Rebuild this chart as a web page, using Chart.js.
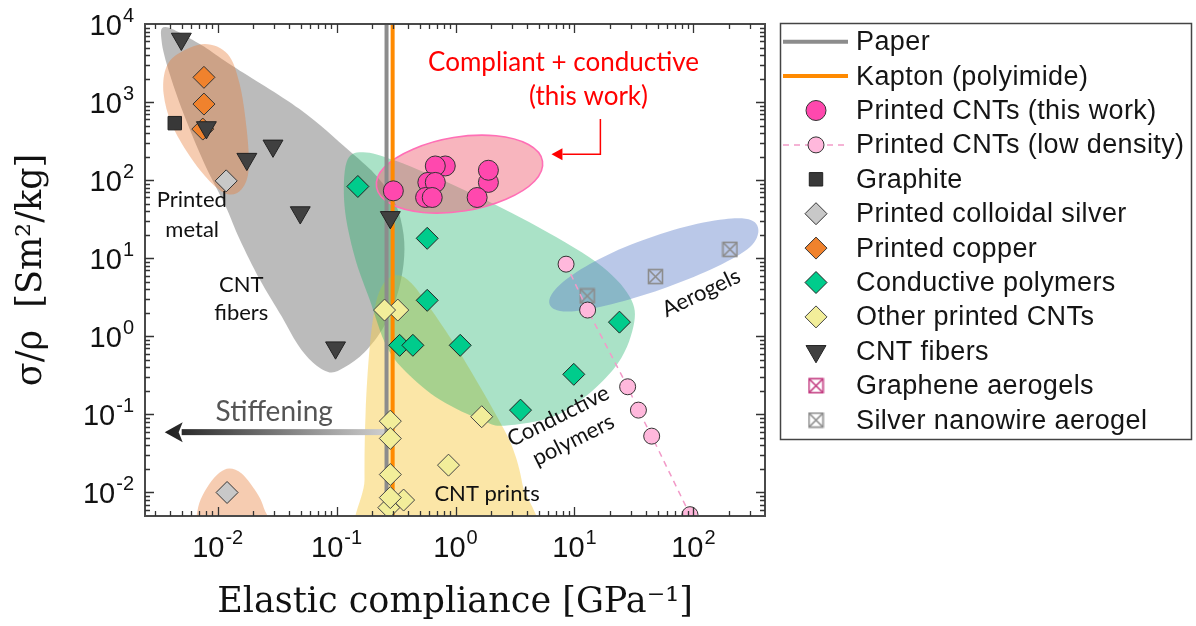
<!DOCTYPE html>
<html><head><meta charset="utf-8">
<script src="https://cdn.jsdelivr.net/npm/chart.js@4/dist/chart.umd.min.js"></script>
<style>html,body{margin:0;padding:0;background:#fff}#wrap{width:1196px;height:626px;position:relative}</style>
</head><body><div id="wrap"><canvas id="c" width="1196" height="626"></canvas></div>
<script>
// ---------- data ----------
const xTicks = [0.01, 0.1, 1, 10, 100];
const xTickExp = ['-2', '-1', '0', '1', '2'];
const yTicks = [0.01, 0.1, 1, 10, 100, 1000, 10000];
const yTickExp = ['-2', '-1', '0', '1', '2', '3', '4'];

const lineY = [0.005, 10000];
const paperX = [0.263, 0.263];
const kaptonX = [0.296, 0.296];

const cntThisX = [0.30, 0.82, 0.676, 0.585, 0.676, 0.56, 0.637, 1.89, 1.89, 1.52];
const cntThisY = [73, 152, 152, 93.6, 93.6, 60, 60, 93.6, 134, 60];

const cntLowX = [8.5, 12.9, 28, 34.5, 44.6, 93.6];
const cntLowY = [8.4, 2.17, 0.226, 0.1135, 0.0527, 0.0052];

const graphiteX = [0.00436];
const graphiteY = [537];

const silverX = [0.0118, 0.012];
const silverY = [98, 0.01];

const copperX = [0.00767, 0.00767, 0.0075];
const copperY = [2075, 943, 451];

const polyX = [0.151, 0.578, 0.578, 0.339, 0.438, 1.095, 23.9, 9.87, 3.52];
const polyY = [83, 18, 2.89, 0.767, 0.767, 0.767, 1.52, 0.326, 0.1135];

const otherX = [0.327, 0.253, 0.283, 0.283, 0.283, 0.275, 0.366, 0.283, 1.66, 0.873];
const otherY = [2.17, 2.17, 0.082, 0.0492, 0.017, 0.0064, 0.0080, 0.0086, 0.0934, 0.0224];

const fiberX = [0.00495, 0.00804, 0.0176, 0.0292, 0.0495, 0.283, 0.098];
const fiberY = [6430, 473, 186, 275, 38.5, 33.4, 0.716];

const grapheneX = [];
const grapheneY = [];

const silverNwX = [12.8, 48, 203];
const silverNwY = [3.29, 5.82, 13.0];

// shaded regions: outlines as [log10(x), log10(y)]
const regionCntFibers = [[-2.437,3.962],[-2.151,3.744],[-1.874,3.462],[-1.311,2.910],[-0.891,2.372],[-0.655,2.038],[-0.504,1.692],[-0.437,1.308],[-0.437,0.923],[-0.496,0.500],[-0.605,0.115],[-0.765,-0.205],[-0.933,-0.397],[-1.059,-0.462],[-1.202,-0.333],[-1.328,-0.103],[-1.462,0.256],[-1.647,0.731],[-1.815,1.244],[-1.933,1.667],[-2.109,2.205],[-2.269,2.782],[-2.403,3.359],[-2.471,3.782]];
const regionMetal = [[-2.336,3.615],[-2.109,3.744],[-1.916,3.615],[-1.815,3.231],[-1.756,2.654],[-1.739,2.141],[-1.798,1.885],[-1.916,1.821],[-2.067,1.987],[-2.235,2.308],[-2.387,2.718],[-2.454,3.103],[-2.437,3.423]];
const regionMetalLow = [[-2.193,-2.603],[-2.176,-2.295],[-2.143,-2.090],[-2.067,-1.885],[-1.983,-1.744],[-1.899,-1.692],[-1.798,-1.756],[-1.689,-1.962],[-1.613,-2.192],[-1.563,-2.603]];
const regionPrints = [[-0.748,-2.667],[-0.765,-1.833],[-0.756,-0.974],[-0.723,-0.167],[-0.672,0.410],[-0.597,0.692],[-0.487,0.782],[-0.370,0.679],[-0.218,0.372],[-0.008,-0.103],[0.185,-0.590],[0.353,-1.038],[0.479,-1.423],[0.563,-1.897],[0.622,-2.667]];
const regionPolymers = [[-0.916,2.231],[-0.782,2.359],[-0.496,2.244],[0.059,1.885],[0.622,1.462],[1.185,0.949],[1.462,0.513],[1.496,0.128],[1.328,-0.423],[0.899,-0.974],[0.429,-1.141],[0.227,-1.077],[-0.134,-0.808],[-0.412,-0.462],[-0.580,-0.128],[-0.723,0.474],[-0.849,1.026],[-0.933,1.667]];
const regionAerogels = [[0.790,0.474],[0.891,0.679],[1.126,0.923],[1.462,1.167],[1.882,1.385],[2.261,1.500],[2.487,1.487],[2.546,1.333],[2.454,1.115],[2.151,0.859],[1.731,0.603],[1.311,0.410],[1.000,0.321],[0.832,0.346]];
const regionThisWork = [[0.731,2.244],[0.664,1.987],[0.424,1.756],[0.084,1.608],[-0.273,1.586],[-0.546,1.697],[-0.664,1.910],[-0.597,2.167],[-0.357,2.397],[-0.017,2.546],[0.340,2.568],[0.613,2.456]];

// ---------- helpers ----------
const pts = (xs, ys) => xs.map((x, i) => ({x: x, y: ys[i]}));

function boxX(color, size) {
  const c = document.createElement('canvas');
  c.width = size + 2; c.height = size + 2;
  const g = c.getContext('2d');
  g.strokeStyle = color; g.lineWidth = 1.6;
  const o = 1.5, s = size - 1;
  g.strokeRect(o, o, s, s);
  g.beginPath(); g.moveTo(o, o); g.lineTo(o + s, o + s); g.moveTo(o + s, o); g.lineTo(o, o + s); g.stroke();
  return c;
}
const grayBoxX = boxX('#8c8c8c', 15);
const magBoxX = boxX('#c23b80', 15);

function marker(ctx, m, x, y) {
  ctx.save();
  ctx.fillStyle = m.fill || 'transparent';
  ctx.strokeStyle = m.stroke || '#222';
  ctx.lineWidth = m.lw || 1;
  ctx.beginPath();
  const r = m.r;
  if (m.shape === 'circle') { ctx.arc(x, y, r, 0, Math.PI * 2); }
  else if (m.shape === 'rect') { const h = r * Math.SQRT1_2; ctx.rect(x - h, y - h, 2 * h, 2 * h); }
  else if (m.shape === 'diamond') { ctx.moveTo(x, y - r); ctx.lineTo(x + r, y); ctx.lineTo(x, y + r); ctx.lineTo(x - r, y); ctx.closePath(); }
  else if (m.shape === 'tri') { ctx.moveTo(x, y + r); ctx.lineTo(x + r * 0.866, y - r / 2); ctx.lineTo(x - r * 0.866, y - r / 2); ctx.closePath(); }
  if (m.shape === 'img') { ctx.drawImage(m.img, x - m.img.width / 2, y - m.img.height / 2); }
  else { ctx.fill(); ctx.stroke(); }
  ctx.restore();
}

function closedSpline(ctx, p) {
  const n = p.length;
  ctx.moveTo(p[0][0], p[0][1]);
  for (let i = 0; i < n; i++) {
    const p0 = p[(i - 1 + n) % n], p1 = p[i], p2 = p[(i + 1) % n], p3 = p[(i + 2) % n];
    ctx.bezierCurveTo(p1[0] + (p2[0] - p0[0]) / 6, p1[1] + (p2[1] - p0[1]) / 6,
                      p2[0] - (p3[0] - p1[0]) / 6, p2[1] - (p3[1] - p1[1]) / 6, p2[0], p2[1]);
  }
  ctx.closePath();
}

// power-of-ten label: "10" + raised exponent
const BASE_FONT = '29px "Liberation Sans"', EXP_FONT = '20px "Liberation Sans"';
function powLabelWidth(ctx, exp) {
  ctx.font = BASE_FONT; const w1 = ctx.measureText('10').width;
  ctx.font = EXP_FONT; const w2 = ctx.measureText(exp).width;
  return [w1, w2];
}
function drawPowLabel(ctx, exp, xLeft, baseline) {
  const [w1] = powLabelWidth(ctx, exp);
  ctx.fillStyle = '#111'; ctx.textAlign = 'left'; ctx.textBaseline = 'alphabetic';
  ctx.font = BASE_FONT; ctx.fillText('10', xLeft, baseline);
  ctx.font = EXP_FONT; ctx.fillText(exp, xLeft + w1 + 1, baseline - 13);
}

const regions = [
  {pts: regionCntFibers, fill: 'rgba(120,120,120,0.5)'},
  {pts: regionMetal, fill: 'rgba(232,120,50,0.38)'},
  {pts: regionMetalLow, fill: 'rgba(232,120,50,0.38)'},
  {pts: regionPrints, fill: 'rgba(247,205,80,0.5)'},
  {pts: regionPolymers, fill: 'rgba(20,175,100,0.36)'},
  {pts: regionAerogels, fill: 'rgba(90,125,200,0.42)'},
  {pts: regionThisWork, fill: 'rgba(240,90,110,0.45)', stroke: '#ff6fb6'}
];

// text annotations, positions as log10 data coordinates
const labels = [
  {t: 'Printed', lx: -2.218, ly: 1.654},
  {t: 'metal', lx: -2.214, ly: 1.269},
  {t: 'CNT', lx: -1.801, ly: 0.564},
  {t: 'fibers', lx: -1.801, ly: 0.205},
  {t: 'CNT prints', lx: 0.265, ly: -2.103},
  {t: 'Conductive', lx: 0.891, ly: -1.103, rot: -26.6},
  {t: 'polymers', lx: 1.017, ly: -1.410, rot: -26.6},
  {t: 'Aerogels', lx: 2.092, ly: 0.474, rot: -25.6},
  {t: 'Compliant + conductive', lx: 0.908, ly: 3.401, color: '#ff0000', size: 26},
  {t: '(this work)', lx: 1.118, ly: 2.962, color: '#ff0000', size: 26},
  {t: 'Stiffening', lx: -1.524, ly: -1.086, color: '#555555', size: 28}
];

const legendItems = [
  {label: 'Paper', line: {color: '#8c8c8c', w: 4}},
  {label: 'Kapton (polyimide)', line: {color: '#ff8a00', w: 4}},
  {label: 'Printed CNTs (this work)', m: {shape: 'circle', r: 10, fill: '#ff48ae', stroke: '#333'}},
  {label: 'Printed CNTs (low density)', line: {color: '#f29ac8', w: 1.5, dash: [6, 5]}, m: {shape: 'circle', r: 8, fill: '#ffb8dc', stroke: '#333'}},
  {label: 'Graphite', m: {shape: 'rect', r: 9.5, fill: '#383838', stroke: '#222'}},
  {label: 'Printed colloidal silver', m: {shape: 'diamond', r: 11, fill: '#c8c8c8', stroke: '#333'}},
  {label: 'Printed copper', m: {shape: 'diamond', r: 11, fill: '#f0822d', stroke: '#333'}},
  {label: 'Conductive polymers', m: {shape: 'diamond', r: 11, fill: '#00cc8c', stroke: '#222'}},
  {label: 'Other printed CNTs', m: {shape: 'diamond', r: 11, fill: '#f2ee9a', stroke: '#444'}},
  {label: 'CNT fibers', m: {shape: 'tri', r: 11.5, fill: '#404040', stroke: '#222'}},
  {label: 'Graphene aerogels', m: {shape: 'img', img: magBoxX}},
  {label: 'Silver nanowire aerogel', m: {shape: 'img', img: grayBoxX}}
];

const decor = {
  id: 'decor',
  beforeDatasetsDraw(chart) {
    const {ctx, chartArea: a, scales: {x: xs, y: ys}} = chart;
    const P = (lx, ly) => [xs.getPixelForValue(Math.pow(10, lx)), ys.getPixelForValue(Math.pow(10, ly))];
    ctx.save();
    ctx.beginPath(); ctx.rect(a.left, a.top, a.right - a.left, a.bottom - a.top); ctx.clip();
    regions.forEach(r => {
      ctx.beginPath();
      closedSpline(ctx, r.pts.map(p => P(p[0], p[1])));
      ctx.fillStyle = r.fill; ctx.fill();
      if (r.stroke) { ctx.strokeStyle = r.stroke; ctx.lineWidth = 1.6; ctx.stroke(); }
    });
    // stiffening arrow
    const [x1, yA] = P(-0.588, -1.227);
    const [x0] = P(-2.445, -1.227);
    const [xb] = P(-2.294, -1.227);
    const grd = ctx.createLinearGradient(x0, 0, x1, 0);
    grd.addColorStop(0, '#1e1e1e'); grd.addColorStop(1, '#cfcfcf');
    ctx.fillStyle = grd;
    ctx.fillRect(xb - 1, yA - 3, x1 - xb + 1, 6);
    ctx.beginPath(); ctx.moveTo(x0, yA); ctx.lineTo(xb, yA - 10); ctx.lineTo(xb - 4, yA); ctx.lineTo(xb, yA + 10); ctx.closePath();
    ctx.fill();
    ctx.restore();
  },
  afterDatasetsDraw(chart) {
    const {ctx, chartArea: a, scales: {x: xs, y: ys}} = chart;
    const P = (lx, ly) => [xs.getPixelForValue(Math.pow(10, lx)), ys.getPixelForValue(Math.pow(10, ly))];
    ctx.save();
    labels.forEach(l => {
      const [px, py] = P(l.lx, l.ly);
      ctx.save();
      ctx.translate(px, py);
      if (l.rot) ctx.rotate(l.rot * Math.PI / 180);
      ctx.font = (l.size || 22) + 'px Lato';
      ctx.fillStyle = l.color || '#111';
      ctx.textAlign = 'center'; ctx.textBaseline = 'alphabetic';
      ctx.fillText(l.t, 0, 0);
      ctx.restore();
    });
    // red arrow
    const [ax, ay0] = P(1.218, 2.782);
    const [, ay1] = P(1.218, 2.333);
    const [hx] = P(0.899, 2.333);
    const [tx] = P(0.807, 2.333);
    ctx.strokeStyle = '#ff0000'; ctx.lineWidth = 1.5;
    ctx.beginPath(); ctx.moveTo(ax, ay0); ctx.lineTo(ax, ay1); ctx.lineTo(hx, ay1); ctx.stroke();
    ctx.fillStyle = '#ff0000';
    ctx.beginPath(); ctx.moveTo(tx, ay1); ctx.lineTo(hx, ay1 - 6); ctx.lineTo(hx, ay1 + 6); ctx.closePath(); ctx.fill();

    // frame with inward ticks on all sides
    ctx.strokeStyle = '#4a4a4a'; ctx.lineWidth = 2;
    ctx.strokeRect(a.left, a.top, a.right - a.left, a.bottom - a.top);
    ctx.lineWidth = 1.3; ctx.strokeStyle = '#333';
    const xmin = xs.min, xmax = xs.max, ymin = ys.min, ymax = ys.max;
    ctx.beginPath();
    for (let e = -4; e <= 4; e++) for (let m = 1; m <= 9; m++) {
      const v = m * Math.pow(10, e);
      const len = m === 1 ? 9 : 5;
      if (v > xmin && v < xmax) {
        const p = Math.round(xs.getPixelForValue(v)) + 0.5;
        ctx.moveTo(p, a.bottom); ctx.lineTo(p, a.bottom - len);
        ctx.moveTo(p, a.top); ctx.lineTo(p, a.top + len);
      }
      if (v > ymin && v < ymax) {
        const p = Math.round(ys.getPixelForValue(v)) + 0.5;
        ctx.moveTo(a.left, p); ctx.lineTo(a.left + len, p);
        ctx.moveTo(a.right, p); ctx.lineTo(a.right - len, p);
      }
    }
    ctx.stroke();

    // tick labels (10 with raised exponent), placed through the scales
    xTicks.forEach((v, i) => {
      const [w1, w2] = powLabelWidth(ctx, xTickExp[i]);
      const total = w1 + 1 + w2;
      drawPowLabel(ctx, xTickExp[i], xs.getPixelForValue(v) - total / 2, a.bottom + 41);
    });
    yTicks.forEach((v, i) => {
      const [w1, w2] = powLabelWidth(ctx, yTickExp[i]);
      const total = w1 + 1 + w2;
      drawPowLabel(ctx, yTickExp[i], a.left - 11 - total, ys.getPixelForValue(v) + 11);
    });
    ctx.restore();
  },
  afterDraw(chart) {
    const ctx = chart.ctx;
    ctx.save();
    ctx.strokeStyle = '#444'; ctx.lineWidth = 1.5;
    ctx.strokeRect(780.5, 23.5, 411, 416);
    const y0 = 41.7, step = 34.4;
    legendItems.forEach((it, i) => {
      const y = y0 + i * step;
      if (it.line) {
        ctx.save();
        ctx.strokeStyle = it.line.color; ctx.lineWidth = it.line.w;
        if (it.line.dash) ctx.setLineDash(it.line.dash);
        ctx.beginPath(); ctx.moveTo(783, y); ctx.lineTo(848, y); ctx.stroke();
        ctx.restore();
      }
      if (it.m) marker(ctx, it.m, 816, y);
      ctx.fillStyle = '#151515';
      ctx.font = '27px "Liberation Sans"';
      try { ctx.letterSpacing = '0.4px'; } catch (e) {}
      ctx.textAlign = 'left'; ctx.textBaseline = 'middle';
      ctx.fillText(it.label, 856, y + 1);
      try { ctx.letterSpacing = '0px'; } catch (e) {}
    });
    ctx.restore();
  }
};

const common = {clip: 0, showLine: false};
const datasets = [
  Object.assign({}, common, {label: 'Paper', data: pts(paperX, lineY), showLine: true, borderColor: '#8c8c8c', borderWidth: 4, pointRadius: 0, order: 20}),
  Object.assign({}, common, {label: 'Kapton (polyimide)', data: pts(kaptonX, lineY), showLine: true, borderColor: '#ff8a00', borderWidth: 4, pointRadius: 0, order: 19}),
  Object.assign({}, common, {label: 'Printed CNTs (this work)', data: pts(cntThisX, cntThisY), pointStyle: 'circle', pointRadius: 10, pointBackgroundColor: '#ff48ae', pointBorderColor: '#333', pointBorderWidth: 1, order: 1}),
  Object.assign({}, common, {label: 'Printed CNTs (low density)', data: pts(cntLowX, cntLowY), showLine: true, borderColor: '#f29ac8', borderWidth: 1.5, borderDash: [6, 5], pointStyle: 'circle', pointRadius: 8, pointBackgroundColor: '#ffb8dc', pointBorderColor: '#333', pointBorderWidth: 1, order: 2}),
  Object.assign({}, common, {label: 'Graphite', data: pts(graphiteX, graphiteY), pointStyle: 'rect', pointRadius: 9.5, pointBackgroundColor: '#383838', pointBorderColor: '#222', pointBorderWidth: 1, order: 3}),
  Object.assign({}, common, {label: 'Printed colloidal silver', data: pts(silverX, silverY), pointStyle: 'rectRot', pointRadius: 11, pointBackgroundColor: '#c8c8c8', pointBorderColor: '#333', pointBorderWidth: 1, order: 3}),
  Object.assign({}, common, {label: 'Printed copper', data: pts(copperX, copperY), pointStyle: 'rectRot', pointRadius: 11, pointBackgroundColor: '#f0822d', pointBorderColor: '#333', pointBorderWidth: 1, order: 4}),
  Object.assign({}, common, {label: 'Conductive polymers', data: pts(polyX, polyY), pointStyle: 'rectRot', pointRadius: 11, pointBackgroundColor: '#00cc8c', pointBorderColor: '#222', pointBorderWidth: 1, order: 3}),
  Object.assign({}, common, {label: 'Other printed CNTs', data: pts(otherX, otherY), pointStyle: 'rectRot', pointRadius: 11, pointBackgroundColor: '#f2ee9a', pointBorderColor: '#444', pointBorderWidth: 1, order: 3}),
  Object.assign({}, common, {label: 'CNT fibers', data: pts(fiberX, fiberY), pointStyle: 'triangle', pointRotation: 180, pointRadius: 11.5, pointBackgroundColor: '#404040', pointBorderColor: '#222', pointBorderWidth: 1, order: 3}),
  Object.assign({}, common, {label: 'Graphene aerogels', data: pts(grapheneX, grapheneY), pointStyle: magBoxX, order: 6}),
  Object.assign({}, common, {label: 'Silver nanowire aerogel', data: pts(silverNwX, silverNwY), pointStyle: grayBoxX, order: 6})
];

new Chart(document.getElementById('c'), {
  type: 'scatter',
  data: {datasets: datasets},
  options: {
    responsive: false,
    animation: false,
    devicePixelRatio: 1,
    layout: {padding: {left: 0, top: 24, right: 431, bottom: 0}},
    plugins: {legend: {display: false}, tooltip: {enabled: false}},
    scales: {
      x: {
        type: 'logarithmic', min: 0.00245, max: 400,
        grid: {display: false, drawTicks: false}, border: {display: false},
        afterBuildTicks: s => { s.ticks = xTicks.map(v => ({value: v})); },
        afterFit: s => { s.height = 110; },
        ticks: {display: false, autoSkip: false},
        title: {display: true, text: 'Elastic compliance [GPa⁻¹]', color: '#111',
                font: {family: 'DejaVu Serif', size: 35, lineHeight: 1}, padding: {top: 0, bottom: 6}}
      },
      y: {
        type: 'logarithmic', min: 0.005, max: 10000,
        grid: {display: false, drawTicks: false}, border: {display: false},
        afterBuildTicks: s => { s.ticks = yTicks.map(v => ({value: v})); },
        afterFit: s => { s.width = 145; },
        ticks: {display: false, autoSkip: false},
        title: {display: true, text: 'σ/ρ  [Sm²/kg]', color: '#111',
                font: {family: 'DejaVu Serif', size: 35, lineHeight: 1}, padding: {top: 14, bottom: 0}}
      }
    }
  },
  plugins: [decor]
});
</script>
</body></html>
